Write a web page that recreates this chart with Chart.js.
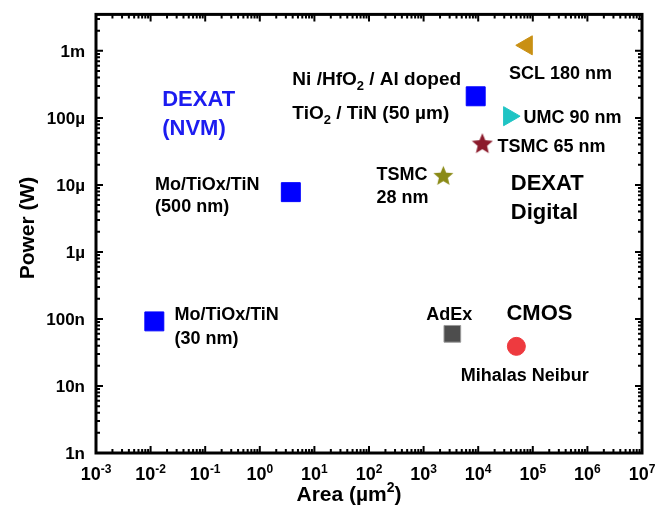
<!DOCTYPE html>
<html lang="en">
<head>
  <meta charset="UTF-8" />
  <title>Power vs Area</title>
  <script src="https://cdn.jsdelivr.net/npm/chart.js"></script>
  <style>
    html, body { margin: 0; padding: 0; background: #fff; }
    #wrap { width: 665px; height: 510px; }
  </style>
</head>
<body>
<div id="wrap"><canvas id="chart" width="665" height="510"></canvas></div>

<script>
  // values: area in um^2, power in W
  const devices = ['Mo/TiOx/TiN (30 nm)', 'Mo/TiOx/TiN (500 nm)', 'Ni/HfO2/Al doped TiO2/TiN (50 um)',
                   'SCL 180 nm', 'UMC 90 nm', 'TSMC 65 nm', 'TSMC 28 nm', 'AdEx', 'Mihalas Neibur'];
  const areas  = [0.0117, 3.7, 9000, 77600, 36800, 11900, 2300, 3360, 50000];
  const powers = [9.2e-8, 7.8e-6, 2.1e-4, 1.21e-3, 1.06e-4, 4.2e-5, 1.39e-5, 6.0e-8, 3.9e-8];

  // axis ticks
  const xExponents  = [-3, -2, -1, 0, 1, 2, 3, 4, 5, 6, 7];
  const yTickValues = [1e-9, 1e-8, 1e-7, 1e-6, 1e-5, 1e-4, 1e-3];
  const yTickLabels = ['1n', '10n', '100n', '1µ', '10µ', '100µ', '1m'];

  const FONT = "'Liberation Sans', Arial, sans-serif";
  const BLUE = '#0000ff';

  function makeStar(color, size) {
    const c = document.createElement('canvas');
    c.width = size; c.height = size;
    const g = c.getContext('2d');
    const cx = size / 2, cy = size / 2 + size * 0.05, R = size / 2, r = R * 0.45;
    g.beginPath();
    for (let i = 0; i < 10; i++) {
      const rad = (i % 2 ? r : R);
      const a = -Math.PI / 2 + i * Math.PI / 5;
      g.lineTo(cx + rad * Math.cos(a), cy + rad * Math.sin(a));
    }
    g.closePath();
    g.fillStyle = color;
    g.fill();
    return c;
  }

  const pointColors = [BLUE, BLUE, BLUE, '#c99014', '#1fc4c4', '#8b1a2b', '#8a8a16', '#4d4d4d', '#ee3a3f'];
  const pointShapes = ['rect', 'rect', 'rect', 'triangle', 'triangle',
                       makeStar('#8b1a2b', 22), makeStar('#8a8a16', 21), 'rect', 'circle'];
  const pointRot    = [0, 0, 0, 270, 90, 0, 0, 0, 0];
  const pointRad    = [13.4, 13.4, 13.4, 11, 11, 10, 10, 11.8, 9];
  const pointBorder = [BLUE, BLUE, BLUE, '#c99014', '#1fc4c4', '#8b1a2b', '#8a8a16', '#9a9a9a', '#ee3a3f'];

  // text annotations, anchored in data space (left edge, middle of first line)
  const notes = [
    { lines: ['DEXAT', '(NVM)'], area: 0.0163, power: 1.95e-4, size: 22, lh: 29, color: '#1c1cf0' },
    { lines: ['Mo/TiOx/TiN', '(500 nm)'], area: 0.0121, power: 1.06e-5, lh: 22 },
    { lines: ['Mo/TiOx/TiN', '(30 nm)'], area: 0.0274, power: 1.22e-7, lh: 24 },
    { lines: ['Ni /HfO_{2} / Al doped', 'TiO_{2} / TiN (50 µm)'], area: 3.95, power: 3.89e-4, size: 19, lh: 34 },
    { lines: ['SCL 180 nm'], area: 36700, power: 4.83e-4 },
    { lines: ['UMC 90 nm'], area: 67500, power: 1.06e-4 },
    { lines: ['TSMC 65 nm'], area: 22500, power: 3.89e-5 },
    { lines: ['TSMC', '28 nm'], area: 137, power: 1.47e-5, lh: 23 },
    { lines: ['DEXAT', 'Digital'], area: 39500, power: 1.10e-5, size: 22, lh: 28.5 },
    { lines: ['AdEx'], area: 1120, power: 1.22e-7 },
    { lines: ['CMOS'], area: 32900, power: 1.26e-7, size: 22 },
    { lines: ['Mihalas Neibur'], area: 4780, power: 1.49e-8 }
  ];

  // split "HfO_{2}" / "10^{-3}" into plain, sub and sup pieces
  function parseRich(str) {
    const parts = [];
    const re = /([_^])\{([^}]*)\}/g;
    let last = 0, m;
    while ((m = re.exec(str))) {
      if (m.index > last) parts.push({ t: str.slice(last, m.index), k: '' });
      parts.push({ t: m[2], k: m[1] });
      last = re.lastIndex;
    }
    if (last < str.length) parts.push({ t: str.slice(last), k: '' });
    return parts;
  }

  function drawRich(ctx, str, x, y, size, align, color) {
    const parts = parseRich(str);
    const small = Math.round(size * 0.68);
    let total = 0;
    parts.forEach(p => {
      ctx.font = 'bold ' + (p.k ? small : size) + 'px ' + FONT;
      p.w = ctx.measureText(p.t).width;
      total += p.w;
    });
    let cx = align === 'center' ? x - total / 2 : align === 'right' ? x - total : x;
    const base = y + size * 0.36;
    ctx.fillStyle = color || '#000';
    ctx.textAlign = 'left';
    ctx.textBaseline = 'alphabetic';
    parts.forEach(p => {
      ctx.font = 'bold ' + (p.k ? small : size) + 'px ' + FONT;
      let dy = 0;
      if (p.k === '_') dy = size * 0.25;
      if (p.k === '^') dy = -size * 0.42;
      ctx.fillText(p.t, cx, base + dy);
      cx += p.w;
    });
  }

  const framePlugin = {
    id: 'frame',
    afterDatasetsDraw(chart) {
      const { ctx, chartArea: a, scales: { x, y } } = chart;
      ctx.save();
      ctx.strokeStyle = '#000';

      // inward ticks on all four sides
      ctx.lineWidth = 2;
      ctx.beginPath();
      for (let e = -3; e < 7; e++) {
        for (let m = 1; m < 10; m++) {
          const px = x.getPixelForValue(m * Math.pow(10, e));
          const len = m === 1 ? 7 : 4;
          ctx.moveTo(px, a.bottom); ctx.lineTo(px, a.bottom - len);
          ctx.moveTo(px, a.top); ctx.lineTo(px, a.top + len);
        }
      }
      for (let e = -9; e <= -3; e++) {
        for (let m = 1; m < 10; m++) {
          const v = m * Math.pow(10, e);
          if (v > y.max) break;
          const py = y.getPixelForValue(v);
          const len = m === 1 ? 7 : 4;
          ctx.moveTo(a.left, py); ctx.lineTo(a.left + len, py);
          ctx.moveTo(a.right, py); ctx.lineTo(a.right - len, py);
        }
      }
      ctx.stroke();

      ctx.lineWidth = 3;
      ctx.strokeRect(a.left, a.top, a.right - a.left, a.bottom - a.top);

      // tick labels
      xExponents.forEach(e => {
        drawRich(ctx, '10^{' + e + '}', x.getPixelForValue(Math.pow(10, e)), a.bottom + 21, 18, 'center');
      });
      yTickValues.forEach((v, i) => {
        drawRich(ctx, yTickLabels[i], a.left - 11, y.getPixelForValue(v), 17, 'right');
      });

      // axis titles
      drawRich(ctx, 'Area (µm^{2})', 349, 493, 21, 'center');
      ctx.save();
      ctx.translate(26, 228);
      ctx.rotate(-Math.PI / 2);
      drawRich(ctx, 'Power (W)', 0, 0, 21, 'center');
      ctx.restore();

      // annotations
      notes.forEach(n => {
        const px = x.getPixelForValue(n.area);
        const py = y.getPixelForValue(n.power);
        n.lines.forEach((line, i) => {
          drawRich(ctx, line, px, py + i * (n.lh || 22), n.size || 18, 'left', n.color);
        });
      });
      ctx.restore();
    }
  };

  new Chart(document.getElementById('chart'), {
    type: 'scatter',
    data: {
      datasets: [{
        label: 'Power vs Area',
        data: areas.map((a, i) => ({ x: a, y: powers[i] })),
        backgroundColor: pointColors,
        borderColor: pointBorder,
        borderWidth: 1,
        pointStyle: pointShapes,
        rotation: pointRot,
        pointRadius: pointRad,
        pointHoverRadius: pointRad
      }]
    },
    options: {
      responsive: false,
      animation: false,
      devicePixelRatio: 1,
      layout: { padding: { left: 96, right: 23, top: 13, bottom: 57 } },
      plugins: { legend: { display: false }, tooltip: { enabled: false } },
      scales: {
        x: { type: 'logarithmic', min: 1e-3, max: 1e7, display: false },
        y: { type: 'logarithmic', min: 1e-9, max: 3.5e-3, display: false }
      }
    },
    plugins: [framePlugin]
  });
</script>
</body>
</html>
